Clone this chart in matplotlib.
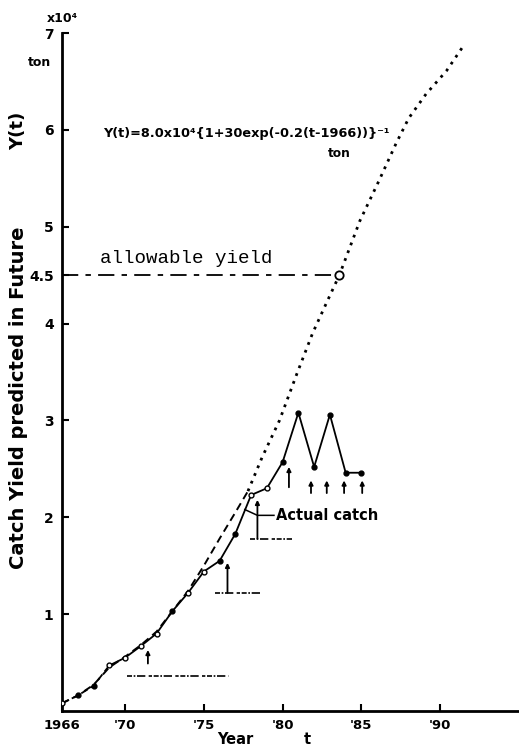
import numpy as np
import matplotlib
matplotlib.use("Agg")
import matplotlib.pyplot as plt

# actual catch (x10^4 ton)
catch_years = [1966, 1967, 1968, 1969, 1970, 1971, 1972, 1973, 1974, 1975,
               1976, 1977, 1978, 1979, 1980, 1981, 1982, 1983, 1984, 1985]
catch_vals = [0.08, 0.16, 0.26, 0.47, 0.55, 0.67, 0.80, 1.03, 1.22, 1.44,
              1.55, 1.83, 2.23, 2.30, 2.57, 3.08, 2.52, 3.06, 2.46, 2.46]
catch_open = [True, False, False, True, True, True, True, False, True, True,
              False, False, True, True, False, False, False, False, False, False]

# fitted logistic curve: dashed over the fitting period, dotted for the forecast
fit_years = [1966, 1967, 1968, 1969, 1970, 1971, 1972, 1973, 1974, 1975,
             1976, 1977, 1977.8]
fit_vals = [0.08, 0.16, 0.27, 0.45, 0.56, 0.68, 0.82, 1.03, 1.24, 1.50,
            1.78, 2.05, 2.27]
pred_years = [1977.8, 1978.7, 1979.8, 1980.9, 1981.9, 1982.8, 1983.6, 1984.9,
              1986.1, 1987.2, 1988.0, 1989.1, 1990.4, 1991.4]
pred_vals = [2.27, 2.62, 3.00, 3.48, 3.90, 4.22, 4.50, 5.06,
             5.47, 5.86, 6.12, 6.37, 6.61, 6.85]

allow_yield = 4.5
allow_year = 1983.6

xticks = [1966, 1970, 1975, 1980, 1985, 1990]
xticklabels = ["1966", "'70", "'75", "'80", "'85", "'90"]
yticks = [1, 2, 3, 4, 4.5, 5, 6, 7]
yticklabels = ["1", "2", "3", "4", "4.5", "5", "6", "7"]

# annotation arrows: (x, tail, head)
long_arrows = [(1971.45, 0.49, 0.63), (1976.5, 1.22, 1.53), (1978.4, 1.78, 2.18)]
scribbles = [(1970.1, 1976.6, 0.36), (1975.7, 1978.7, 1.22), (1977.9, 1980.6, 1.78)]
short_arrows = [(1980.4, 2.31, 2.52), (1981.8, 2.25, 2.38), (1982.8, 2.25, 2.38),
                (1983.9, 2.25, 2.38), (1985.05, 2.25, 2.38)]

fig = plt.figure(figsize=(5.19, 7.47), dpi=100)
ax = fig.add_axes([0.1195, 0.0482, 0.8805, 0.9076])

ax.plot(fit_years, fit_vals, color="black", lw=1.4, ls=(0, (4, 2.5)))
ax.plot(pred_years, pred_vals, color="black", lw=2.0, ls=(0, (1, 2.0)))

# allowable yield line and its crossing
ax.plot([1966, allow_year], [allow_yield, allow_yield], color="black", lw=1.3,
        ls=(0, (9, 4, 3, 4)))
ax.plot(allow_year, allow_yield, "o", ms=6, mfc="white", mec="black", mew=1.3, zorder=5)

# actual catch
ax.plot(catch_years[:4], catch_vals[:4], color="black", lw=1.3, ls=(0, (4, 2)))
ax.plot(catch_years[3:], catch_vals[3:], color="black", lw=1.3)
for yr, v, op in zip(catch_years, catch_vals, catch_open):
    ax.plot(yr, v, "o", ms=3.5, mfc="white" if op else "black", mec="black",
            mew=1.0, zorder=4)

for x, t, h in long_arrows + short_arrows:
    ax.annotate("", xy=(x, h), xytext=(x, t),
                arrowprops=dict(arrowstyle="-|>", lw=1.3, color="black",
                                mutation_scale=6, shrinkA=0, shrinkB=0))
for x0, x1, y in scribbles:
    ax.plot([x0, x1], [y, y], color="black", lw=1.2, ls=(0, (3, 1, 1, 1, 5, 2, 2, 1)))

ax.text(1979.6, 2.02, "Actual catch", fontsize=10.5, fontweight="bold", va="center")
ax.plot([1979.45, 1978.4, 1977.6], [2.02, 2.02, 2.08], color="black", lw=1.1)

ax.text(1968.6, 5.96, "Y(t)=8.0x10⁴{1+30exp(-0.2(t-1966))}⁻¹", fontsize=9.3,
        fontweight="bold", va="center")
ax.text(1983.6, 5.76, "ton", fontsize=8.8, fontweight="bold", ha="center", va="center")
ax.text(1968.4, 4.63, "allowable yield", fontsize=13.8, family="Liberation Mono")

ax.set_xlim(1966, 1995)
ax.set_ylim(0, 7)
ax.spines[["top", "right"]].set_visible(False)
ax.spines[["left", "bottom"]].set_linewidth(2)
ax.set_xticks(xticks)
ax.set_xticklabels(xticklabels, fontsize=9.5, fontweight="bold")
ax.set_yticks(yticks)
ax.set_yticklabels(yticklabels, fontsize=10, fontweight="bold")
ax.tick_params(direction="in", length=5, width=1.5, pad=6)

fig.text(0.12, 0.975, "x10⁴", fontsize=9, fontweight="bold", ha="center", va="center")
fig.text(0.077, 0.917, "ton", fontsize=9, fontweight="bold", ha="center", va="center")
fig.text(0.035, 0.468, "Catch Yield predicted in Future", fontsize=14,
         fontweight="bold", rotation=90, ha="center", va="center")
fig.text(0.035, 0.825, "Y(t)", fontsize=13, fontweight="bold", rotation=90,
         ha="center", va="center")
fig.text(0.453, 0.01, "Year", fontsize=10.5, fontweight="bold", ha="center", va="center")
fig.text(0.593, 0.01, "t", fontsize=10.5, fontweight="bold", ha="center", va="center")

fig.savefig("out.png", dpi=100)
